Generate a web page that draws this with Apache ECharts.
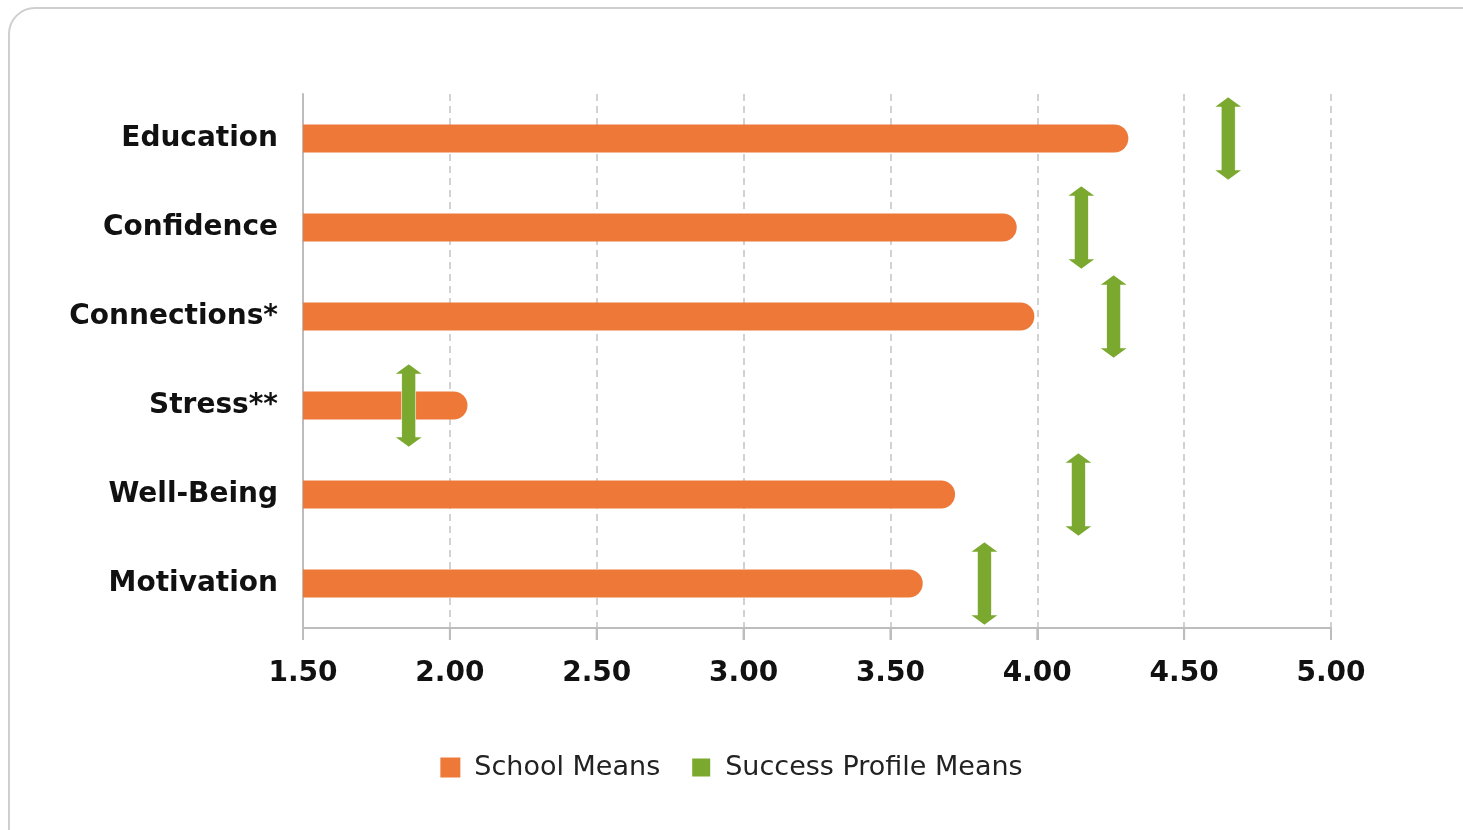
<!DOCTYPE html>
<html>
<head>
<meta charset="utf-8">
<script src="https://cdn.jsdelivr.net/npm/echarts@6/dist/echarts.min.js"></script>
<style>
  html, body { margin: 0; padding: 0; background: #fff; overflow: hidden; }
  #main { width: 1463px; height: 830px; }
</style>
</head>
<body>
<div id="main"></div>
<script>
// categories, top to bottom as shown
var categories = ['Education', 'Confidence', 'Connections*', 'Stress**', 'Well-Being', 'Motivation'];
// school means (orange bars)
var schoolMeans = [4.31, 3.93, 3.99, 2.06, 3.72, 3.61];
// success profile means (green arrows)
var profileMeans = [4.65, 4.15, 4.26, 1.86, 4.14, 3.82];
var xTicks = ['1.50', '2.00', '2.50', '3.00', '3.50', '4.00', '4.50', '5.00'];

var orange = '#EE7838';
var green = '#7BA92F';
var axisGrey = '#bdbdbd';
var arrowPath = 'path://M15 0 L30 11 L22 11 L22 73 L30 73 L15 84 L0 73 L8 73 L8 11 L0 11 Z';

var chart = echarts.init(document.getElementById('main'));
var option = {
  backgroundColor: '#fff',
  textStyle: { fontFamily: 'DejaVu Sans' },
  graphic: [{
    type: 'rect',
    shape: { x: 9, y: 8, width: 1500, height: 860, r: 26 },
    style: { fill: 'none', stroke: '#cfcfcf', lineWidth: 2 },
    silent: true,
    z: -10
  }],
  grid: { left: 303, right: 132, top: 94, bottom: 202 },
  legend: {
    bottom: 44,
    left: 'center',
    itemWidth: 20,
    itemHeight: 20,
    itemGap: 30,
    textStyle: { fontSize: 27, color: '#222', fontFamily: 'DejaVu Sans', padding: [0, 0, 0, 9] },
    data: [
      { name: 'School Means', icon: 'rect' },
      { name: 'Success Profile Means', icon: 'rect' }
    ]
  },
  xAxis: {
    type: 'value',
    min: 1.5,
    max: 5,
    interval: 0.5,
    axisLine: { show: true, onZero: false, lineStyle: { color: axisGrey, width: 2 } },
    axisTick: { show: true, length: 12, lineStyle: { color: axisGrey, width: 2 } },
    axisLabel: {
      margin: 32,
      fontSize: 28,
      fontWeight: 'bold',
      color: '#111',
      formatter: function (v) { return xTicks[Math.round((v - 1.5) / 0.5)]; }
    },
    splitLine: { show: true, lineStyle: { color: '#c4c4c4', type: [7, 5], width: 1.5 } }
  },
  yAxis: {
    type: 'category',
    inverse: true,
    data: categories,
    axisLine: { show: true, onZero: false, lineStyle: { color: axisGrey, width: 2 } },
    axisTick: { show: false },
    axisLabel: { margin: 25, fontSize: 28, fontWeight: 'bold', color: '#111', fontFamily: 'DejaVu Sans' }
  },
  series: [
    {
      name: 'School Means',
      type: 'bar',
      data: schoolMeans,
      barWidth: 28,
      itemStyle: { color: orange, borderRadius: [0, 14, 14, 0] },
      z: 2
    },
    {
      name: 'Success Profile Means',
      type: 'scatter',
      data: profileMeans.map(function (v, i) { return [v, categories[i]]; }),
      symbol: arrowPath,
      symbolSize: [30, 84],
      itemStyle: { color: green, opacity: 1, borderColor: '#ffffff', borderWidth: 1 },
      z: 5
    },
    {
      // outward tick marks under the x axis
      name: 'ticks',
      type: 'custom',
      clip: false,
      silent: true,
      data: xTicks.map(function (t) { return [Number(t), categories[categories.length - 1]]; }),
      renderItem: function (params, api) {
        var x = api.coord([api.value(0), categories[categories.length - 1]])[0];
        var cs = params.coordSys;
        var y0 = cs.y + cs.height;
        return {
          type: 'line',
          shape: { x1: x, y1: y0, x2: x, y2: y0 + 12 },
          style: { stroke: axisGrey, lineWidth: 2 }
        };
      },
      z: 1
    }
  ]
};
chart.setOption(option);
</script>
</body>
</html>
